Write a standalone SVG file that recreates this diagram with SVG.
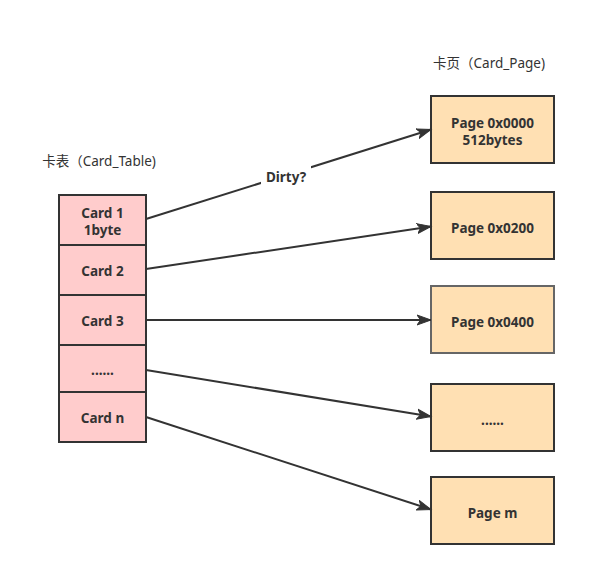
<svg xmlns="http://www.w3.org/2000/svg" width="595" height="569" viewBox="0 0 595 569">
<style>
text{font-family:"Noto Sans","Noto Sans CJK SC",sans-serif;font-size:13.5px;font-weight:bold;fill:#333;text-anchor:middle;dominant-baseline:central}
.card{fill:#FFCCCC;stroke:#333;stroke-width:2}
.page{fill:#FFE0B3;stroke:#333;stroke-width:2}
.edge{stroke:#333;stroke-width:2;fill:none;marker-end:url(#arr)}
.title{font-weight:normal}
</style>
<defs>
<marker id="arr" markerWidth="16" markerHeight="12" refX="14" refY="5" orient="auto" markerUnits="userSpaceOnUse" viewBox="0 0 16 10">
<path d="M0,0 L14,5 L0,10 L3.5,5 Z" fill="#333" stroke="#333" stroke-width="1"/>
</marker>
</defs>
<rect width="595" height="569" fill="#fff"/>
<text class="title" x="99" y="161">卡表（Card_Table)</text>
<text class="title" x="489" y="63">卡页（Card_Page)</text>
<g id="card1"><rect class="card" x="59" y="195" width="87" height="50"/><text x="102.5" y="213">Card 1</text><text x="102.5" y="230">1byte</text></g>
<g id="card2"><rect class="card" x="59" y="245" width="87" height="50"/><text x="102.5" y="271">Card 2</text></g>
<g id="card3"><rect class="card" x="59" y="295" width="87" height="50"/><text x="102.5" y="321">Card 3</text></g>
<g id="card4"><rect class="card" x="59" y="345" width="87" height="47"/><text x="102.5" y="370">......</text></g>
<g id="cardn"><rect class="card" x="59" y="392" width="87" height="50"/><text x="102.5" y="418">Card n</text></g>
<g id="page0"><rect class="page" x="431" y="96" width="123" height="67"/><text x="492.5" y="123">Page 0x0000</text><text x="492.5" y="140">512bytes</text></g>
<g id="page1"><rect class="page" x="431" y="192" width="123" height="67"/><text x="492.5" y="228">Page 0x0200</text></g>
<g id="page2"><rect class="page" x="431" y="286" width="123" height="67" style="stroke:#666"/><text x="492.5" y="322">Page 0x0400</text></g>
<g id="page3"><rect class="page" x="431" y="384" width="123" height="67"/><text x="492.5" y="420">......</text></g>
<g id="pagem"><rect class="page" x="431" y="477" width="123" height="67"/><text x="492.5" y="513">Page m</text></g>
<g id="connectors">
<path class="edge" d="M146,219 L431,129.5"/>
<rect x="261" y="166" width="50" height="20" fill="#fff"/>
<text x="286" y="177">Dirty?</text>
<path class="edge" d="M146,269 L431,226.5"/>
<path class="edge" d="M146,320 L431,320"/>
<path class="edge" d="M146,370 L431,416.5"/>
<path class="edge" d="M146,417 L431,509.5"/>
</g>
</svg>
